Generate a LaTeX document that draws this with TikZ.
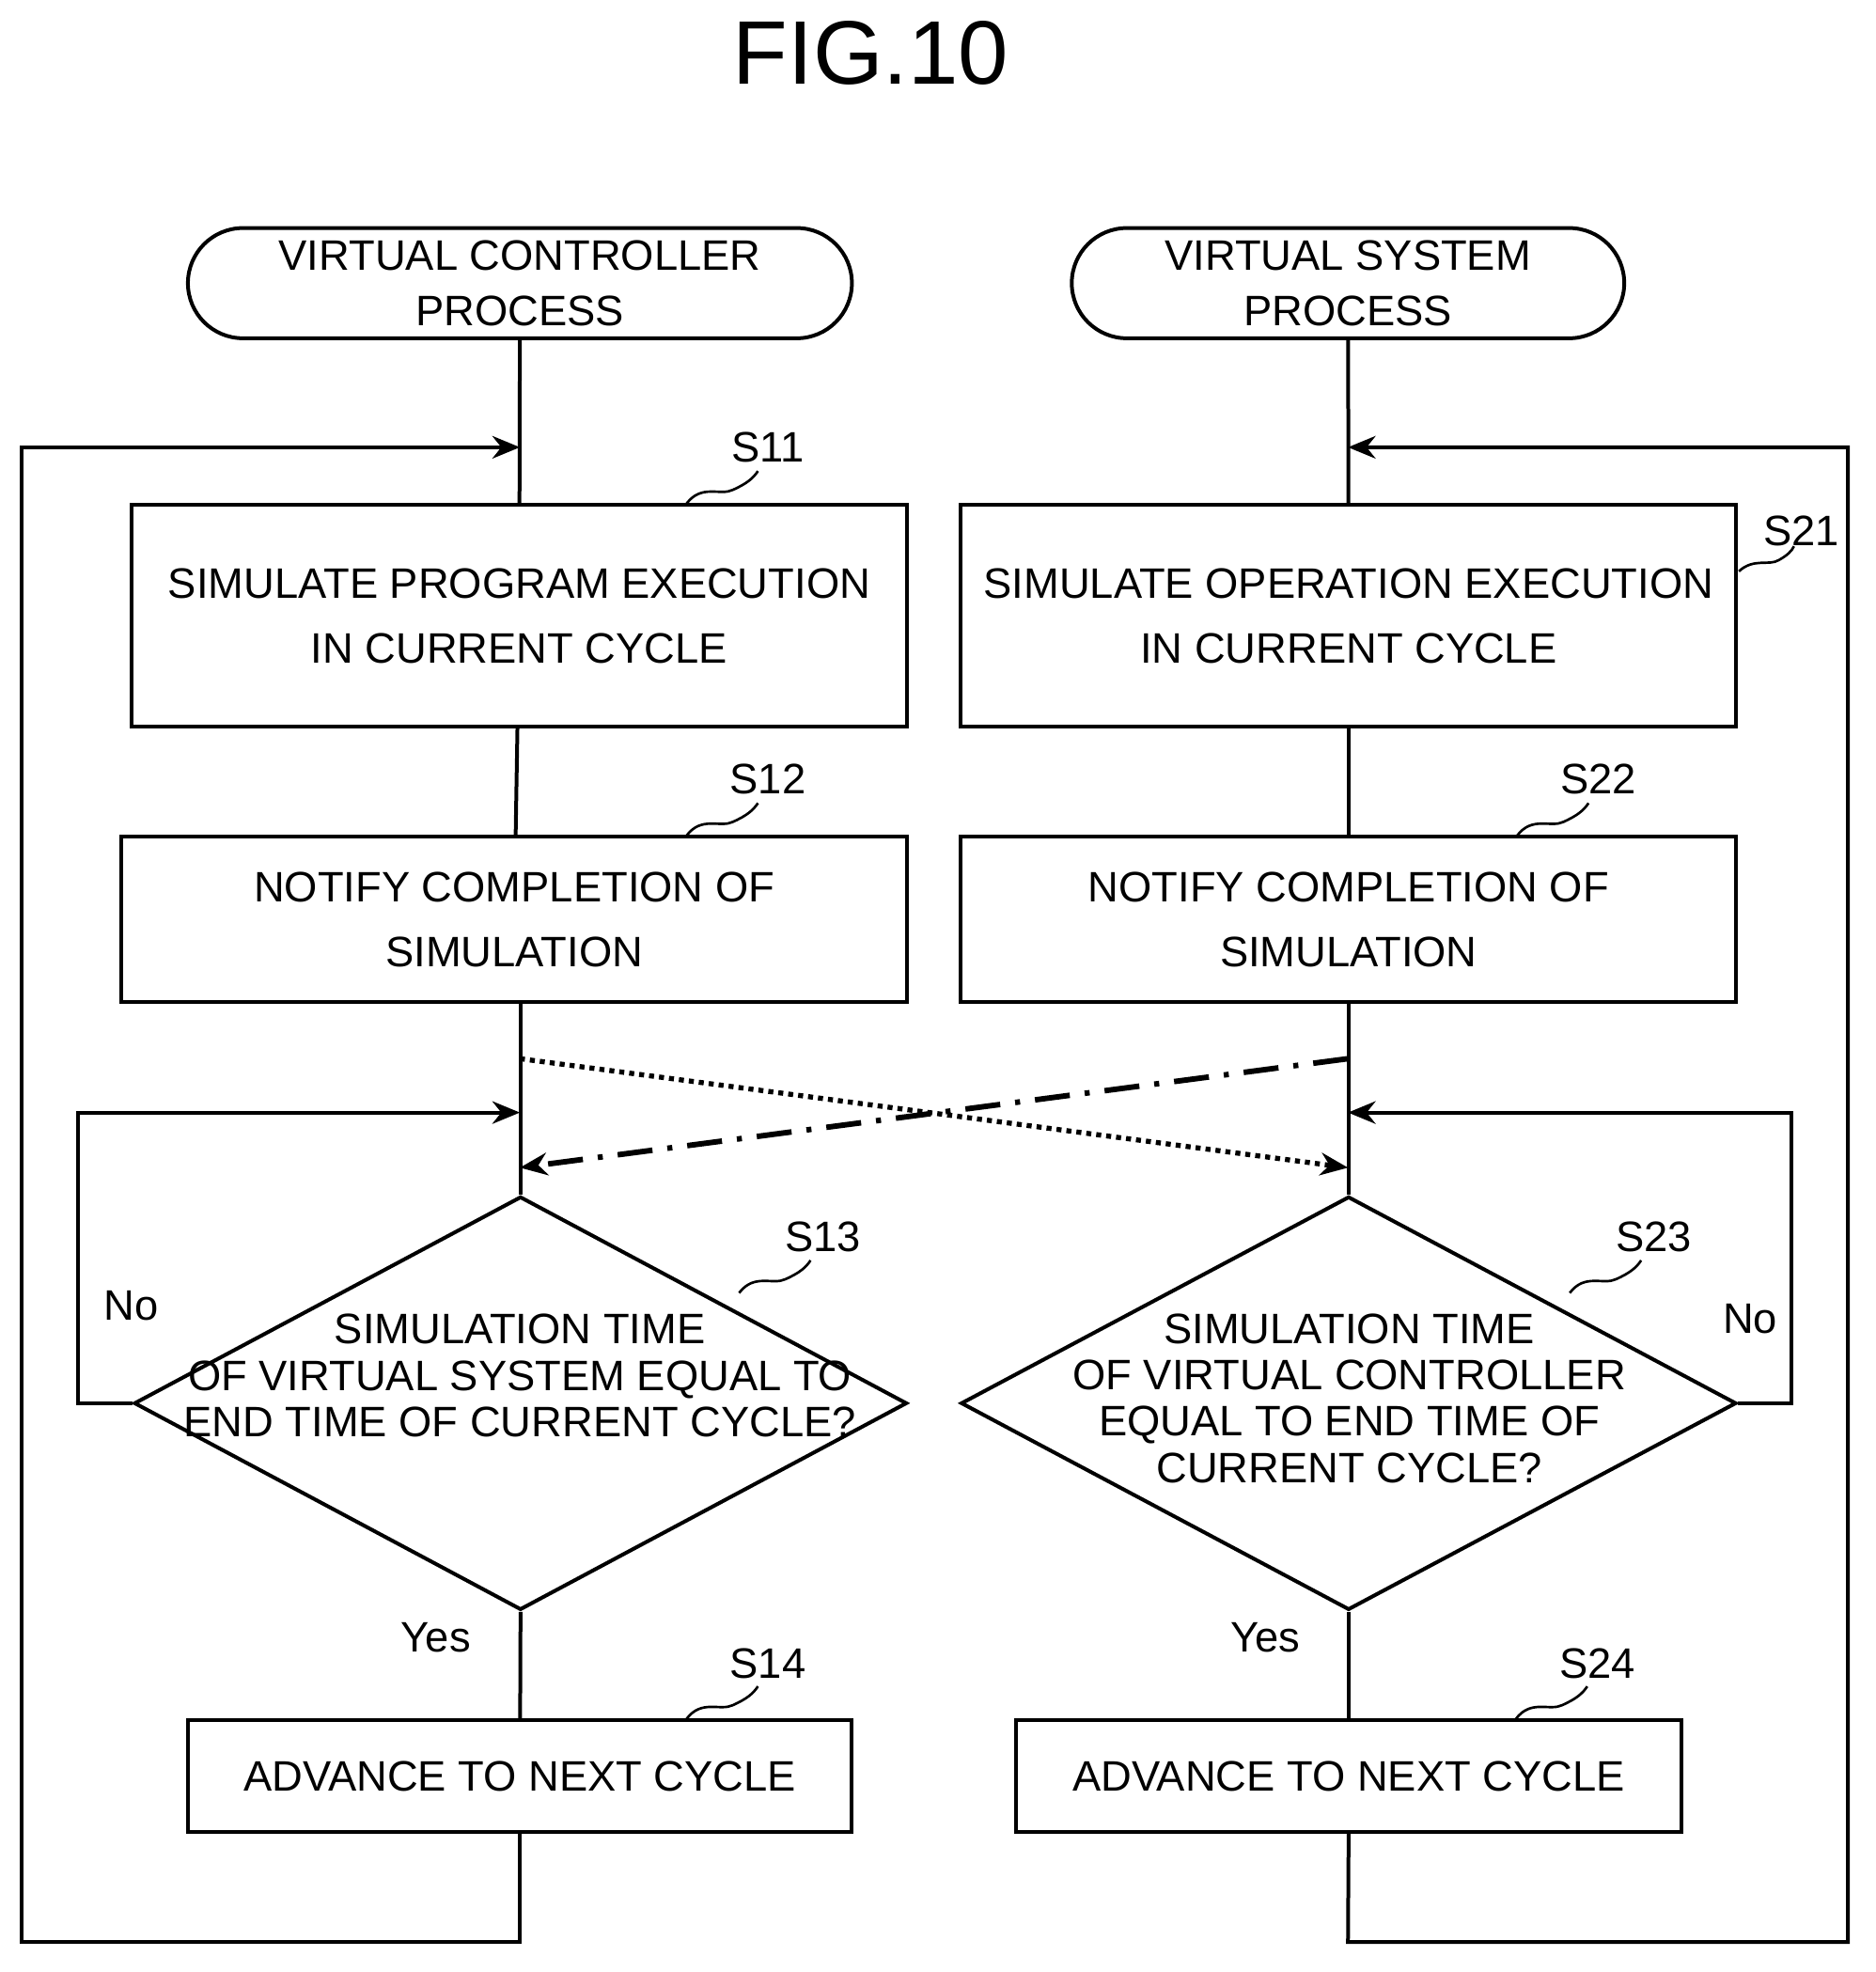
\documentclass[tikz,border=0pt]{standalone}
\usepackage{fontspec}
\setmainfont{Liberation Sans}
\usetikzlibrary{shapes.geometric,shapes.misc,arrows.meta}
\begin{document}
\begin{tikzpicture}[x=0.5pt,y=-0.5pt,
  every node/.style={font=\fontsize{17}{22}\selectfont},
  box/.style={draw,line width=1.5pt,rectangle,inner sep=0pt,align=center},
  term/.style={draw,line width=1.5pt,rounded rectangle,inner sep=0pt,align=center},
  dia/.style={draw,line width=1.5pt,diamond,inner sep=0pt},
  ln/.style={line width=1.5pt},
  arr/.style={line width=1.5pt,-{Stealth[length=11pt,width=9pt]}},
  lab/.style={font=\fontsize{17}{20}\selectfont},
  lead/.style={line width=1pt}]
\useasboundingbox (0,0) rectangle (1497,1574);
\node[font=\fontsize{36}{40}\selectfont] (title) at (695,42) {FIG.10};
\node[term,minimum width=265pt,minimum height=44pt] (tl) at (415,226) {VIRTUAL CONTROLLER\\PROCESS};
\node[term,minimum width=220.5pt,minimum height=44pt] (tr) at (1076,226) {VIRTUAL SYSTEM\\PROCESS};
\node[box,minimum width=309.5pt,minimum height=88.5pt] (s11) at (414.5,491.5) {SIMULATE PROGRAM EXECUTION\\[4pt]IN CURRENT CYCLE};
\node[box,minimum width=309.5pt,minimum height=88.5pt] (s21) at (1076.5,491.5) {SIMULATE OPERATION EXECUTION\\[4pt]IN CURRENT CYCLE};
\node[box,minimum width=313.5pt,minimum height=66pt] (s12) at (410.5,734) {NOTIFY COMPLETION OF\\[4pt]SIMULATION};
\node[box,minimum width=309.5pt,minimum height=66pt] (s22) at (1076.5,734) {NOTIFY COMPLETION OF\\[4pt]SIMULATION};
\node[dia,minimum width=308.5pt,minimum height=165pt] (s13) at (415.5,1120) {};
\node[align=center,font=\fontsize{17}{18.5}\selectfont] (t13) at (415,1098) {SIMULATION TIME\\OF VIRTUAL SYSTEM EQUAL TO\\END TIME OF CURRENT CYCLE?};
\node[dia,minimum width=309.5pt,minimum height=165pt] (s23) at (1076.5,1120) {};
\node[align=center,font=\fontsize{17}{18.5}\selectfont] (t23) at (1077,1116) {SIMULATION TIME\\OF VIRTUAL CONTROLLER\\EQUAL TO END TIME OF\\CURRENT CYCLE?};
\node[box,minimum width=265pt,minimum height=44.5pt] (s14) at (415,1417.5) {ADVANCE TO NEXT CYCLE};
\node[box,minimum width=265.5pt,minimum height=44.5pt] (s24) at (1076.5,1417.5) {ADVANCE TO NEXT CYCLE};
\coordinate (l357) at (415,357); \coordinate (r357) at (1076,357);
\coordinate (l888) at (415,888); \coordinate (r888) at (1076,888);
\coordinate (l845) at (415,845); \coordinate (r845) at (1076,845);
\coordinate (l932) at (415,932); \coordinate (r932) at (1076,932);
\coordinate (lb) at (415,1550); \coordinate (rb) at (1076,1550);
\draw[ln] (tl) -- (s11); \draw[ln] (s11) -- (s12); \draw[ln] (s12.south -| s13.north) -- (s13.north);
\draw[ln] (s13.south) -- (s14);
\draw[ln] (tr) -- (s21); \draw[ln] (s21) -- (s22); \draw[ln] (s22) -- (s23.north);
\draw[ln] (s23.south) -- (s24);
\draw[arr] (s14.south) -- (lb) -- (17,1550) -- (17,357) -- (l357);
\draw[arr] (s24.south) -- (rb) -- (1475,1550) -- (1475,357) -- (r357);
\draw[arr] (s13.west) -- (62,1120) -- (62,888) -- (l888);
\draw[arr] (s23.east) -- (1430,1120) -- (1430,888) -- (r888);
\draw[line width=2pt,dotted,-{Stealth[length=11pt,width=9pt]}] (l845) -- (r932);
\draw[line width=2.2pt,dash pattern=on 14pt off 6pt on 2pt off 6pt,-{Stealth[length=11pt,width=9pt]}] (r845) -- (l932);
\node[lab] (ls11) at (613,357) {S11};
\draw[lead] (548,402) .. controls (560,386) and (575,396) .. (585,391) .. controls (596,386) and (601,382) .. (605,376);
\node[lab] (ls21) at (1438,424) {S21};
\draw[lead] (1388,456) .. controls (1400,445) and (1412,452) .. (1420,447) .. controls (1427,443) and (1430,440) .. (1432,436);
\node[lab] (ls12) at (613,622) {S12};
\draw[lead] (548,667) .. controls (560,651) and (575,661) .. (585,656) .. controls (596,651) and (601,647) .. (605,641);
\node[lab] (ls22) at (1276,622) {S22};
\draw[lead] (1211,667) .. controls (1223,651) and (1238,661) .. (1248,656) .. controls (1259,651) and (1264,647) .. (1268,641);
\node[lab] (ls13) at (657,987) {S13};
\draw[lead] (590,1032) .. controls (602,1016) and (617,1026) .. (627,1021) .. controls (638,1016) and (643,1012) .. (647,1006);
\node[lab] (ls23) at (1320,987) {S23};
\draw[lead] (1253,1032) .. controls (1265,1016) and (1280,1026) .. (1290,1021) .. controls (1301,1016) and (1306,1012) .. (1310,1006);
\node[lab] (ls14) at (613,1328) {S14};
\draw[lead] (548,1372) .. controls (560,1356) and (575,1366) .. (585,1361) .. controls (596,1356) and (601,1352) .. (605,1346);
\node[lab] (ls24) at (1275,1328) {S24};
\draw[lead] (1210,1372) .. controls (1222,1356) and (1237,1366) .. (1247,1361) .. controls (1258,1356) and (1263,1352) .. (1267,1346);
\node[lab] (no1) at (105,1042) {No};
\node[lab] (no2) at (1397,1053) {No};
\node[lab] (y1) at (348,1307) {Yes};
\node[lab] (y2) at (1010,1307) {Yes};
\end{tikzpicture}
\end{document}
